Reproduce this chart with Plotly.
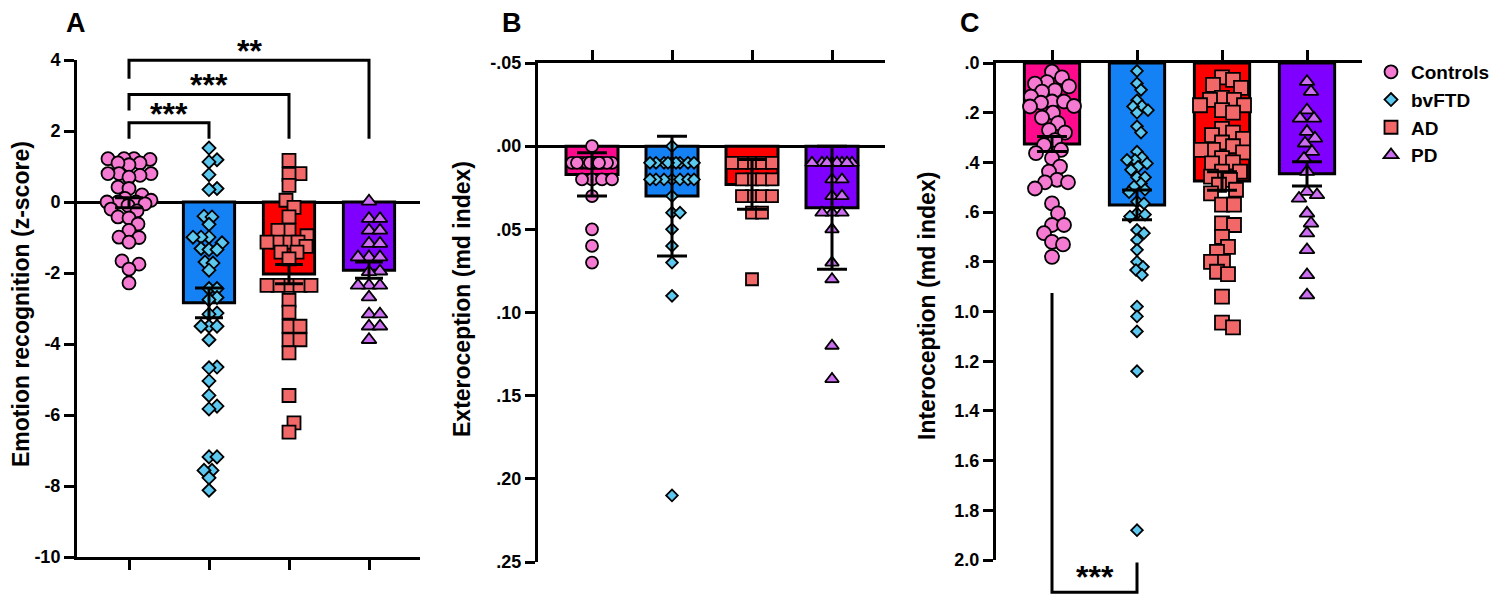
import plotly.graph_objects as go

W, H = 1500, 596
FONT = "Liberation Sans, Arial, sans-serif"
OFF = 8  # the page places the figure 8px right/down (default body margin)

groups = ["Controls", "bvFTD", "AD", "PD"]
bar_colors = ["#FF0A8C", "#1482F5", "#FF0000", "#8000FF"]
dot_colors = ["#F57AD2", "#5CC8F0", "#F26868", "#CC6EF2"]
symbols = ["circle", "diamond", "square", "triangle-up"]

# ---------------- Panel A: Emotion recognition (z-score) ----------------
emo_controls = [1.22, 1.22, 1.22, 1.2, 1.1, 1.05, 1.1, 0.8, 0.8, 0.8, 0.75, 0.7, 0.42, 0.38, 0.2, 0.1,
                0.05, 0.0, 0.0, 0.0, -0.05, -0.1, -0.2, -0.25, -0.42, -0.45, -0.62, -0.8, -0.99, -1.0,
                -1.13, -1.66, -1.75, -1.89, -2.28]
emo_bvftd = [1.52, 1.19, 1.13, 0.77, 0.38, 0.35, -0.40, -0.42, -0.63, -0.99, -0.99, -0.99, -1.15, -1.31,
             -1.34, -1.34, -1.69, -1.72, -1.92, -2.44, -2.44, -2.69, -2.75, -3.13, -3.16, -3.50, -3.50,
             -3.50, -3.88, -4.65, -4.67, -5.04, -5.45, -5.75, -5.83, -7.18, -7.18, -7.56, -7.56, -7.77, -8.12]
emo_ad = [1.17, 0.80, 0.78, 0.47, 0.05, -0.15, -0.42, -0.80, -0.80, -0.95, -1.13, -1.13, -1.13, -1.13,
          -1.25, -1.41, -1.41, -1.6, -2.35, -2.35, -2.35, -2.35, -2.35, -2.77, -3.1, -3.5, -3.5, -3.88,
          -3.88, -4.25, -5.45, -6.22, -6.48]
emo_pd = [0.02, -0.47, -0.47, -0.80, -0.80, -1.17, -1.17, -1.55, -1.55, -1.55, -1.95, -1.97, -2.35, -2.35,
          -2.35, -2.68, -3.16, -3.16, -3.50, -3.50, -3.88]
emo_mean = [-0.02, -2.84, -2.03, -1.92]
emo_sem = [0.14, 0.42, 0.27, 0.23]
emo_ticks = [-10, -8, -6, -4, -2, 0, 2, 4]
emo_ticktext = ["-10", "-8", "-6", "-4", "-2", "0", "2", "4"]
# comparisons: (group a, group b, bracket height, left foot, right foot, label)
emo_sig = [(0, 1, 2.23, 1.78, 1.78, "***"),
           (0, 2, 3.03, 2.58, 1.78, "***"),
           (0, 3, 3.99, 3.47, 1.78, "**")]

# ---------------- Panel B: Exteroception (md index) ----------------
ext_controls = [0.0] + [0.01] * 12 + [0.02] * 4 + [0.03, 0.05, 0.06, 0.07]
ext_bvftd = [0.0] + [0.01] * 9 + [0.02] * 7 + [0.03, 0.04, 0.04, 0.05, 0.06, 0.07, 0.09, 0.21]
ext_ad = [0.01] * 5 + [0.02] * 4 + [0.03] * 4 + [0.04, 0.04, 0.08]
ext_pd = [0.01] * 8 + [0.02] * 2 + [0.03] * 2 + [0.04] * 3 + [0.05, 0.07, 0.08, 0.12, 0.14]
ext_mean = [0.017, 0.030, 0.023, 0.037]
ext_err = [0.013, 0.036, 0.015, 0.037]
ext_ticks = [-0.05, 0.0, 0.05, 0.10, 0.15, 0.20, 0.25]
ext_ticktext = ["-.05", ".00", ".05", ".10", ".15", ".20", ".25"]

# ---------------- Panel C: Interoception (md index) ----------------
int_controls = [0.035, 0.058, 0.077, 0.083, 0.094, 0.11, 0.115, 0.135, 0.155, 0.16, 0.155, 0.173, 0.175,
                0.2, 0.22, 0.242, 0.27, 0.28, 0.31, 0.33, 0.35, 0.363, 0.383, 0.417, 0.437, 0.47, 0.48,
                0.48, 0.505, 0.565, 0.605, 0.652, 0.652, 0.685, 0.72, 0.73, 0.78]
int_bvftd = [0.032, 0.082, 0.108, 0.15, 0.173, 0.175, 0.19, 0.2, 0.255, 0.28, 0.357, 0.38, 0.39, 0.39,
             0.404, 0.417, 0.43, 0.46, 0.46, 0.485, 0.497, 0.51, 0.52, 0.558, 0.565, 0.605, 0.61, 0.618,
             0.672, 0.685, 0.712, 0.752, 0.8, 0.82, 0.833, 0.853, 0.98, 1.02, 1.08, 1.24, 1.88]
int_ad = [0.058, 0.068, 0.088, 0.1, 0.14, 0.148, 0.148, 0.17, 0.17, 0.19, 0.2, 0.265, 0.28, 0.29, 0.305,
          0.32, 0.335, 0.35, 0.35, 0.36, 0.383, 0.4, 0.404, 0.437, 0.437, 0.457, 0.47, 0.49, 0.51, 0.525,
          0.57, 0.57, 0.645, 0.652, 0.7, 0.74, 0.76, 0.8, 0.8, 0.84, 0.85, 0.94, 1.045, 1.064]
int_pd = [0.075, 0.115, 0.19, 0.223, 0.223, 0.276, 0.303, 0.323, 0.357, 0.384, 0.437, 0.518, 0.531,
          0.545, 0.605, 0.645, 0.685, 0.752, 0.853, 0.934]
int_mean = [0.326, 0.571, 0.475, 0.446]
int_err = [0.030, 0.060, 0.037, 0.049]
int_ticks = [0.0, 0.2, 0.4, 0.6, 0.8, 1.0, 1.2, 1.4, 1.6, 1.8, 2.0]
int_ticktext = [".0", ".2", ".4", ".6", ".8", "1.0", "1.2", "1.4", "1.6", "1.8", "2.0"]
int_sig = [(0, 1, 2.13, 0.926, 2.01, "***")]


# ---------------- geometry (page pixels -> paper fractions) ----------------
def fx(px):
    return (px - OFF) / W


def fy(py):
    return 1 - (py - OFF) / H


def px_dom_x(a, b):
    return [fx(a), fx(b)]


def px_dom_y(bottom, top):
    return [fy(bottom), fy(top)]


panels = {
    "A": dict(xd=px_dom_x(77, 420), yd=px_dom_y(557, 60), xr=[-0.65, 3.6375], yr=[-10, 4],
              sizes=[13, 10, 13, 13]),
    "B": dict(xd=px_dom_x(538, 885), yd=px_dom_y(562, 63), xr=[-0.675, 3.6625], yr=[0.25, -0.05],
              sizes=[12, 9, 12, 12]),
    "C": dict(xd=px_dom_x(996, 1362), yd=px_dom_y(560, 63), xr=[-0.6588, 3.647], yr=[2.0, 0.0],
              sizes=[14, 9, 14, 13]),
}


def ppu(dom, rng, total):
    return total * (dom[1] - dom[0]) / abs(rng[1] - rng[0])


def swarm(vals, xppu, yppu, dist, cap):
    n = len(vals)
    order = sorted(range(n), key=lambda i: vals[i])
    cands = [0]
    for k in range(1, int(cap) + 1):
        cands += [k, -k]
    placed = []
    offs = [0.0] * n
    for i in order:
        yp = vals[i] * yppu
        best, bestc, bestscore = None, 0, -1.0
        for c in cands:
            md = min((((c - px) ** 2 + (yp - py) ** 2) ** 0.5 for px, py in placed), default=1e9)
            if md >= dist:
                best = c
                break
            if md > bestscore + 1e-9:
                bestscore, bestc = md, c
        if best is None:
            best = bestc
        placed.append((best, yp))
        offs[i] = best / xppu
    return offs


def extend_range(dom, rng, new_dom):
    d0, d1 = dom
    r0, r1 = rng
    f = lambda p: r0 + (p - d0) / (d1 - d0) * (r1 - r0)
    return [f(new_dom[0]), f(new_dom[1])]


fig = go.Figure()

panel_data = [
    ("A", "x", "y", [emo_controls, emo_bvftd, emo_ad, emo_pd], emo_mean, emo_sem, 0.64, 14),
    ("B", "x2", "y2", [ext_controls, ext_bvftd, ext_ad, ext_pd], ext_mean, ext_err, 0.65, 15),
    ("C", "x3", "y3", [int_controls, int_bvftd, int_ad, int_pd], int_mean, int_err, 0.65, 15),
]

for key, xa, ya, pts, means, errs, bw, capw in panel_data:
    p = panels[key]
    xppu = ppu(p["xd"], p["xr"], W)
    yppu = ppu(p["yd"], p["yr"], H)
    fig.add_trace(go.Bar(x=list(range(4)), y=means, base=0, width=bw, xaxis=xa, yaxis=ya,
                         marker=dict(color=bar_colors, line=dict(color="black", width=3)),
                         showlegend=False, hoverinfo="skip"))
    for g in range(4):
        offs = swarm(pts[g], xppu, yppu, p["sizes"][g] * 0.8, 22)
        fig.add_trace(go.Scatter(
            x=[g + o for o in offs], y=pts[g], mode="markers", xaxis=xa, yaxis=ya,
            name=groups[g], showlegend=(key == "A"), legendgroup=groups[g],
            marker=dict(symbol=symbols[g], size=p["sizes"][g], color=dot_colors[g],
                        line=dict(color="black", width=1.8)),
            cliponaxis=False))
    fig.add_trace(go.Scatter(x=list(range(4)), y=means, mode="markers", xaxis=xa, yaxis=ya,
                             marker=dict(size=2, color="rgba(0,0,0,0)"),
                             error_y=dict(type="data", array=errs, color="black", thickness=3, width=capw),
                             showlegend=False, hoverinfo="skip"))

# significance brackets on overlay axes sharing the panel scales
yA4 = extend_range(panels["A"]["yd"], panels["A"]["yr"], [panels["A"]["yd"][0], 1.0])
yC5 = extend_range(panels["C"]["yd"], panels["C"]["yr"], [0.0, panels["C"]["yd"][1]])

star_font = dict(size=32, family=FONT, color="black", weight="bold")
annotations = []
for a, b, top, fa, fb, lab in emo_sig:
    fig.add_trace(go.Scatter(x=[a, a, b, b], y=[fa, top, top, fb], mode="lines", xaxis="x", yaxis="y4",
                             line=dict(color="black", width=3), showlegend=False, hoverinfo="skip"))
    annotations.append(dict(x=(a + b) / 2, y=top, xref="x", yref="y4", text=lab, showarrow=False,
                            yanchor="middle", yshift=9, font=star_font))
for a, b, bot, fa, fb, lab in int_sig:
    fig.add_trace(go.Scatter(x=[a, a, b, b], y=[fa, bot, bot, fb], mode="lines", xaxis="x3", yaxis="y5",
                             line=dict(color="black", width=3), showlegend=False, hoverinfo="skip"))
    annotations.append(dict(x=(a + b) / 2, y=bot, xref="x3", yref="y5", text=lab, showarrow=False,
                            yanchor="middle", yshift=15, font=star_font))

tickfont = dict(size=18, family=FONT, color="black", weight="bold")
axis_common = dict(showline=True, linecolor="black", linewidth=3, ticks="outside", tickcolor="black",
                   tickwidth=3, ticklen=10, showgrid=False, zeroline=False, tickfont=tickfont,
                   automargin=False)

fig.update_layout(
    template="none",
    xaxis=dict(domain=panels["A"]["xd"], range=panels["A"]["xr"], anchor="y", tickvals=[0, 1, 2, 3],
               showticklabels=False, **axis_common),
    yaxis=dict(domain=panels["A"]["yd"], range=panels["A"]["yr"], anchor="x", tickvals=emo_ticks,
               ticktext=emo_ticktext, **{**axis_common, "zeroline": True}, zerolinecolor="black",
               zerolinewidth=3),
    xaxis2=dict(domain=panels["B"]["xd"], range=panels["B"]["xr"], anchor="y2", side="top",
                tickvals=[0, 1, 2, 3], showticklabels=False, **axis_common),
    yaxis2=dict(domain=panels["B"]["yd"], range=panels["B"]["yr"], anchor="x2", tickvals=ext_ticks,
                ticktext=ext_ticktext, **{**axis_common, "zeroline": True}, zerolinecolor="black",
                zerolinewidth=3),
    xaxis3=dict(domain=panels["C"]["xd"], range=panels["C"]["xr"], anchor="y3", side="top",
                tickvals=[0, 1, 2, 3], showticklabels=False, **axis_common),
    yaxis3=dict(domain=panels["C"]["yd"], range=panels["C"]["yr"], anchor="x3", tickvals=int_ticks,
                ticktext=int_ticktext, **axis_common),
    yaxis4=dict(domain=[panels["A"]["yd"][0], 1.0], range=yA4, anchor="x", visible=False,
                automargin=False),
    yaxis5=dict(domain=[0.0, panels["C"]["yd"][1]], range=yC5, anchor="x3", visible=False,
                automargin=False),
)

# axis titles and panel letters (page pixel positions)
titles = [("Emotion recognition (z-score)", 21, 304), ("Exteroception (md index)", 462, 299),
          ("Interoception (md index)", 927, 306)]
for txt, px, py in titles:
    annotations.append(dict(x=fx(px), y=fy(py), xref="paper", yref="paper", text=txt, textangle=-90,
                            showarrow=False, xanchor="center", yanchor="middle",
                            font=dict(size=23, family=FONT, color="black", weight="bold")))
for txt, px, py in [("A", 76, 23), ("B", 512, 23), ("C", 970, 23)]:
    annotations.append(dict(x=fx(px), y=fy(py), xref="paper", yref="paper", text=txt,
                            showarrow=False, xanchor="center", yanchor="middle",
                            font=dict(size=27, family=FONT, color="black", weight="bold")))

fig.update_layout(
    width=W, height=H, autosize=False, margin=dict(l=0, r=0, t=0, b=0, pad=0, autoexpand=False),
    paper_bgcolor="white", plot_bgcolor="rgba(0,0,0,0)",
    barmode="overlay", annotations=annotations,
    legend=dict(x=fx(1371), y=fy(53), xanchor="left", yanchor="top", bgcolor="rgba(0,0,0,0)",
                font=dict(size=19, family=FONT, color="black", weight="bold"), tracegroupgap=0,
                itemsizing="trace", borderwidth=0),
    font=dict(family=FONT, color="black"),
)

fig.write_html("out.html")
